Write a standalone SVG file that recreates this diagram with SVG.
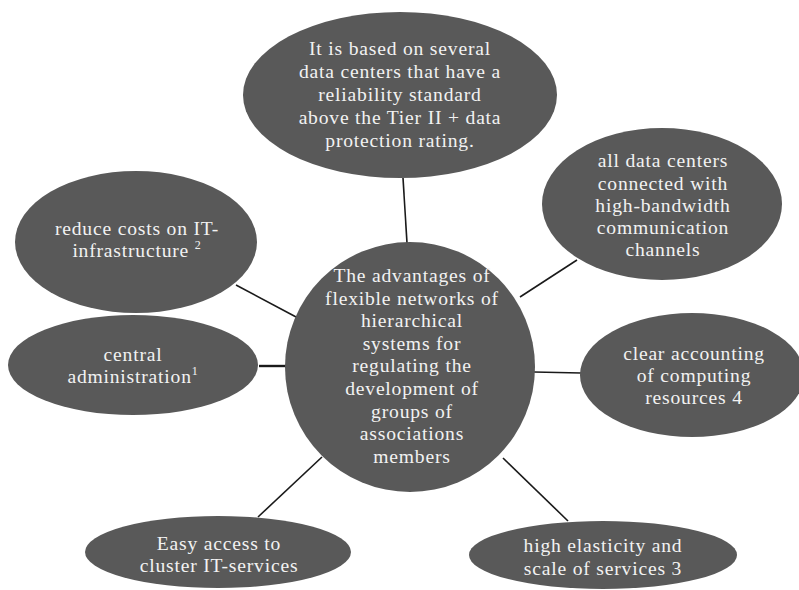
<svg xmlns="http://www.w3.org/2000/svg" width="799" height="590" viewBox="0 0 799 590">
<style>
.n{fill:#595959;}
.t{font-family:"Liberation Serif","Times New Roman",serif;font-size:19.6px;letter-spacing:0.8px;fill:#f2f2f2;text-anchor:middle;}
.c{stroke:#1a1a1a;stroke-width:1.6;fill:none;}
.sup{font-size:12px;}
</style>
<rect width="799" height="590" fill="#ffffff"/>
<g id="connectors">
<line class="c" x1="403" y1="178" x2="407" y2="243"/>
<line class="c" x1="577" y1="260" x2="520" y2="297"/>
<line class="c" x1="534" y1="372" x2="581" y2="373"/>
<line class="c" x1="503" y1="458" x2="568" y2="521"/>
<line class="c" x1="322" y1="457" x2="258" y2="517"/>
<line class="c" x1="259" y1="366" x2="288" y2="366" style="stroke-width:2.4"/>
<line class="c" x1="236" y1="285" x2="298" y2="318"/>
</g>
<g id="node-top">
<ellipse class="n" cx="400" cy="95" rx="157" ry="83"/>
<text class="t" x="400" y="55">It is based on several</text>
<text class="t" x="400" y="78">data centers that have a</text>
<text class="t" x="400" y="101">reliability standard</text>
<text class="t" x="400" y="124">above the Tier II + data</text>
<text class="t" x="400" y="147">protection rating.</text>
</g>
<g id="node-topright">
<ellipse class="n" cx="662" cy="204" rx="120" ry="76"/>
<text class="t" x="663" y="167">all data centers</text>
<text class="t" x="663" y="190">connected with</text>
<text class="t" x="663" y="212">high-bandwidth</text>
<text class="t" x="663" y="234">communication</text>
<text class="t" x="663" y="256">channels</text>
</g>
<g id="node-right">
<ellipse class="n" cx="692" cy="375" rx="112" ry="62"/>
<text class="t" x="694" y="360">clear accounting</text>
<text class="t" x="694" y="382">of computing</text>
<text class="t" x="694" y="404">resources 4</text>
</g>
<g id="node-bottomright">
<ellipse class="n" cx="603" cy="555" rx="134" ry="34"/>
<text class="t" x="603" y="552">high elasticity and</text>
<text class="t" x="603" y="575">scale of services 3</text>
</g>
<g id="node-bottomleft">
<ellipse class="n" cx="218" cy="552" rx="133" ry="36"/>
<text class="t" x="219" y="550">Easy access to</text>
<text class="t" x="219" y="572">cluster IT-services</text>
</g>
<g id="node-left">
<ellipse class="n" cx="133" cy="365" rx="125" ry="50"/>
<text class="t" x="133" y="361">central</text>
<text class="t" x="133" y="383">administration<tspan class="sup" dy="-8">1</tspan></text>
</g>
<g id="node-topleft">
<ellipse class="n" cx="136" cy="242" rx="121" ry="71"/>
<text class="t" x="137" y="235">reduce costs on IT-</text>
<text class="t" x="137" y="257">infrastructure <tspan class="sup" dy="-8">2</tspan></text>
</g>
<g id="node-center">
<ellipse class="n" cx="410" cy="367" rx="125" ry="125"/>
<text class="t" x="412" y="282">The advantages of</text>
<text class="t" x="412" y="305">flexible networks of</text>
<text class="t" x="412" y="327">hierarchical</text>
<text class="t" x="412" y="350">systems for</text>
<text class="t" x="412" y="372">regulating the</text>
<text class="t" x="412" y="395">development of</text>
<text class="t" x="412" y="418">groups of</text>
<text class="t" x="412" y="440">associations</text>
<text class="t" x="412" y="463">members</text>
</g>
</svg>
